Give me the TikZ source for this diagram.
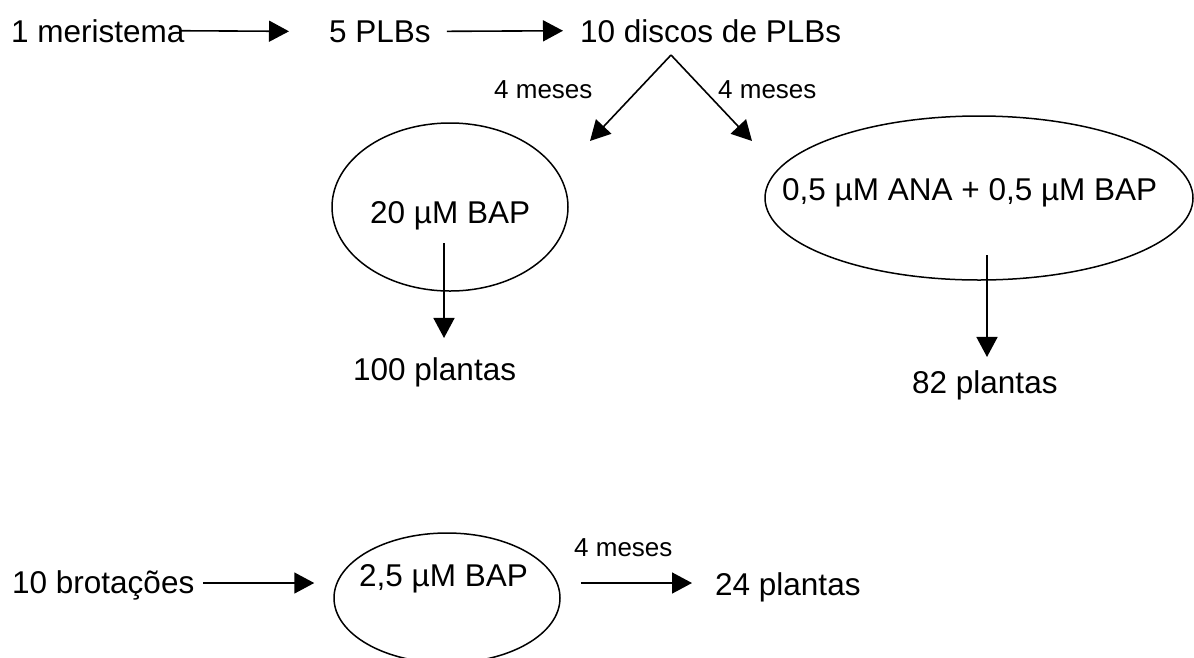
\documentclass[tikz,border=0pt]{standalone}
\usepackage{fontspec}
\setmainfont{Liberation Sans}
\usetikzlibrary{arrows.meta,shapes.geometric}
\begin{document}
\begin{tikzpicture}[x=1pt,y=-1pt,
  lbl/.style={inner sep=0pt,anchor=base west,font=\fontsize{31.5}{36}\selectfont},
  small/.style={inner sep=0pt,anchor=base west,font=\fontsize{26}{30}\selectfont},
  arr/.style={line width=1.6pt,-{Triangle[length=20pt,width=21pt]}},
  oval/.style={draw,line width=1.5pt,ellipse,inner sep=0pt}]
\useasboundingbox (0,0) rectangle (1194,657);

% culture media (ellipses)
\node[oval,minimum width=236pt,minimum height=168pt] (e20) at (450,207) {};
\node[oval,minimum width=428pt,minimum height=164pt] (eana) at (979,198) {};
\node[oval,minimum width=226pt,minimum height=130pt] (e25) at (447,598) {};

% labels
\node[lbl] (mer)  at (11,42)   {1 meristema};
\node[lbl] (plb)  at (329,42)  {5 PLBs};
\node[lbl] (disc) at (580,42)  {10 discos de PLBs};
\node[small] (m1) at (494,98)  {4 meses};
\node[small] (m2) at (718,98)  {4 meses};
\node[lbl] (t20)  at (370,223) {20 µM BAP};
\node[lbl] (p100) at (353,380) {100 plantas};
\node[lbl] (tana) at (782,200) {0,5 µM ANA + 0,5 µM BAP};
\node[lbl] (p82)  at (912,393) {82 plantas};
\node[lbl] (brot) at (12,593)  {10 brotações};
\node[lbl] (t25)  at (359,586) {2,5 µM BAP};
\node[small] (m3) at (574,556) {4 meses};
\node[lbl] (p24)  at (715,595) {24 plantas};

% top row
\draw[arr] ([xshift=-4pt]mer.east) -- ([xshift=-40pt]plb.west);
\draw[arr] ([xshift=16pt]plb.east) -- ([xshift=-17pt]disc.west);

% split of the PLB discs
\coordinate (apex) at (671,55);
\coordinate (tipL) at (590,141);
\coordinate (tipR) at (752,141);
\draw[arr] (apex) -- (tipL);
\draw[arr] (apex) -- (tipR);

% yields
\coordinate (v1) at (444,243);
\coordinate (v2) at (987,255);
\draw[arr,shorten >=19pt] (v1) -- (v1 |- p100.north);
\draw[arr,shorten >=13pt] (v2) -- (v2 |- p82.north);

% bottom row
\coordinate (row3) at (0,583);
\draw[arr,shorten <=191pt,shorten >=19pt] (row3 -| brot.west) -- (row3 -| e25.west);
\draw[arr,shorten <=20pt,shorten >=23pt] (row3 -| e25.east) -- (row3 -| p24.west);
\end{tikzpicture}
\end{document}
